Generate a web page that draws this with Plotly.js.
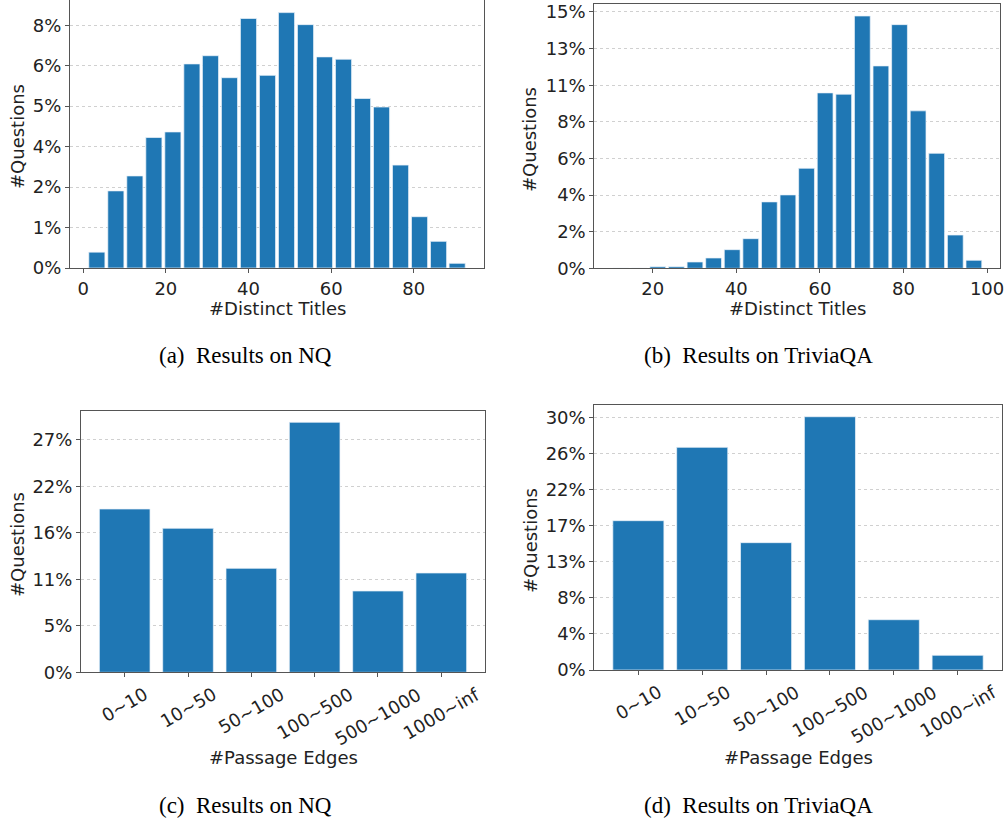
<!DOCTYPE html>
<html><head><meta charset="utf-8">
<script src="https://cdn.plot.ly/plotly-3.0.1.min.js"></script>
<style>html,body{margin:0;padding:0;background:#fff;} #chart{width:1008px;height:820px;}</style>
</head><body><div id="chart"></div>
<script>
// (a) NQ: #Distinct Titles histogram (bin centres, % of questions)
const nqTitleBins = [3.3, 7.9, 12.5, 17.1, 21.7, 26.3, 30.8, 35.4, 40.0, 44.6, 49.2, 53.8, 58.4, 63.0, 67.6, 72.2, 76.8, 81.4, 86.0, 90.5];
const nqTitlePct  = [0.54, 2.63, 3.14, 4.45, 4.64, 6.96, 7.24, 6.49, 8.51, 6.57, 8.71, 8.30, 7.20, 7.12, 5.78, 5.49, 3.51, 1.75, 0.91, 0.16];
const nqTitleTickLabels = ['0%','1%','2%','4%','5%','6%','8%'];
const nqTitleTickStep = 1.38;

// (b) TriviaQA: #Distinct Titles histogram
const tqTitleBins = [12.3, 16.75, 21.2, 25.65, 30.1, 34.55, 39.0, 43.45, 47.9, 52.35, 56.8, 61.25, 65.7, 70.15, 74.6, 79.05, 83.5, 87.95, 92.4, 96.85];
const tqTitlePct  = [0, 0, 0.1, 0.1, 0.38, 0.62, 1.12, 1.78, 3.99, 4.41, 6.01, 10.54, 10.46, 15.16, 12.16, 14.64, 9.46, 6.91, 2.0, 0.48];
const tqTitleTickLabels = ['0%','2%','4%','6%','8%','11%','13%','15%'];
const tqTitleTickStep = 2.2;

// (c)/(d) #Passage Edges
const edgeCats = ['0~10','10~50','50~100','100~500','500~1000','1000~inf'];
const nqEdgePct = [19.40, 17.11, 12.35, 29.70, 9.66, 11.80];
const nqEdgeTickLabels = ['0%','5%','11%','16%','22%','27%'];
const nqEdgeTickStep = 5.52;
const tqEdgePct = [18.2, 27.14, 15.52, 30.87, 6.13, 1.79];
const tqEdgeTickLabels = ['0%','4%','8%','13%','17%','22%','26%','30%'];
const tqEdgeTickStep = 4.4;

const captions = ['(a)\u2002Results on NQ', '(b)\u2002Results on TriviaQA', '(c)\u2002Results on NQ', '(d)\u2002Results on TriviaQA'];
const yTitle = '#Questions';
const xTitles = ['#Distinct Titles', '#Distinct Titles', '#Passage Edges', '#Passage Edges'];

const W = 1008, H = 820;
const fx = p => p / W;
const fy = p => 1 - p / H;
const BLUE = '#1f77b4';
const EDGE = 'rgba(235,242,250,0.9)';
const tickFont = {family: 'DejaVu Sans', size: 18, color: '#222'};

const ticksFrom = (labels, step) => labels.map((_, i) => i * step);

const traces = [
  {type: 'bar', x: nqTitleBins, y: nqTitlePct, width: 3.9, xaxis: 'x', yaxis: 'y',
   marker: {color: BLUE, line: {color: EDGE, width: 0.8}}, hoverinfo: 'x+y'},
  {type: 'bar', x: tqTitleBins, y: tqTitlePct, width: 3.78, xaxis: 'x2', yaxis: 'y2',
   marker: {color: BLUE, line: {color: EDGE, width: 0.8}}, hoverinfo: 'x+y'},
  {type: 'bar', x: edgeCats, y: nqEdgePct, width: 0.8, xaxis: 'x3', yaxis: 'y3',
   marker: {color: BLUE, line: {color: EDGE, width: 0.8}}, hoverinfo: 'x+y'},
  {type: 'bar', x: edgeCats, y: tqEdgePct, width: 0.8, xaxis: 'x4', yaxis: 'y4',
   marker: {color: BLUE, line: {color: EDGE, width: 0.8}}, hoverinfo: 'x+y'}
];

const axBase = {showline: true, linecolor: '#555', linewidth: 1, mirror: true,
  ticks: 'outside', ticklen: 4, tickwidth: 1, tickcolor: '#555', tickfont: tickFont,
  zeroline: false, showgrid: false, fixedrange: true};
const yBase = Object.assign({}, axBase, {showgrid: true, gridcolor: '#d0d0d0', griddash: 'dot', gridwidth: 1, tickmode: 'array'});

const layout = {
  width: W, height: H, margin: {l: 0, r: 0, t: 0, b: 0},
  paper_bgcolor: '#fff', plot_bgcolor: '#fff', showlegend: false,
  xaxis:  Object.assign({}, axBase, {domain: [fx(70), fx(484)], range: [-3.2, 97.0], tick0: 0, dtick: 20, anchor: 'y'}),
  yaxis:  Object.assign({}, yBase, {domain: [fy(268), 1], range: [0, 9.14], tickvals: ticksFrom(nqTitleTickLabels, nqTitleTickStep), ticktext: nqTitleTickLabels, anchor: 'x'}),
  xaxis2: Object.assign({}, axBase, {domain: [fx(594.3), fx(1000)], range: [6.0, 103.1], tick0: 0, dtick: 20, anchor: 'y2'}),
  yaxis2: Object.assign({}, yBase, {domain: [fy(268.3), fy(4)], range: [0, 15.88], tickvals: ticksFrom(tqTitleTickLabels, tqTitleTickStep), ticktext: tqTitleTickLabels, anchor: 'x2'}),
  xaxis3: Object.assign({}, axBase, {domain: [fx(81), fx(485)], type: 'category', range: [-0.69, 5.69], showticklabels: false, anchor: 'y3'}),
  yaxis3: Object.assign({}, yBase, {domain: [fy(672.3), fy(411)], range: [0, 31.04], tickvals: ticksFrom(nqEdgeTickLabels, nqEdgeTickStep), ticktext: nqEdgeTickLabels, anchor: 'x3'}),
  xaxis4: Object.assign({}, axBase, {domain: [fx(594.3), fx(1001.7)], type: 'category', range: [-0.69, 5.69], showticklabels: false, anchor: 'y4'}),
  yaxis4: Object.assign({}, yBase, {domain: [fy(670), fy(405)], range: [0, 32.3], tickvals: ticksFrom(tqEdgeTickLabels, tqEdgeTickStep), ticktext: tqEdgeTickLabels, anchor: 'x4'}),
  annotations: []
};

const ann = layout.annotations;
const titleFont = {family: 'DejaVu Sans', size: 18, color: '#222'};
const capFont = {family: 'Liberation Serif', size: 23, color: '#000'};
// y-axis titles
[[17, 137], [529, 140], [17, 545], [530, 541]].forEach(([x, y]) => ann.push({
  text: yTitle, xref: 'paper', yref: 'paper', x: fx(x), y: fy(y), xanchor: 'center', yanchor: 'middle',
  textangle: -90, showarrow: false, font: titleFont}));
// x-axis titles
[[277, 308], [797, 308], [283, 757], [798, 757]].forEach(([x, y], i) => ann.push({
  text: xTitles[i], xref: 'paper', yref: 'paper', x: fx(x), y: fy(y), xanchor: 'center', yanchor: 'middle',
  showarrow: false, font: titleFont}));
// captions
[[245, 356], [758, 356], [245, 805], [758, 805]].forEach(([x, y], i) => ann.push({
  text: captions[i], xref: 'paper', yref: 'paper', x: fx(x), y: fy(y), xanchor: 'center', yanchor: 'middle',
  showarrow: false, font: capFont}));
// rotated category tick labels for (c) and (d)
edgeCats.forEach(c => {
  ann.push({text: c, xref: 'x3', yref: 'paper', x: c, y: fy(682), xanchor: 'center', yanchor: 'top',
    textangle: -30, showarrow: false, font: tickFont, borderpad: 0});
  ann.push({text: c, xref: 'x4', yref: 'paper', x: c, y: fy(680), xanchor: 'center', yanchor: 'top',
    textangle: -30, showarrow: false, font: tickFont, borderpad: 0});
});

Plotly.newPlot('chart', traces, layout, {staticPlot: true, displayModeBar: false});
</script>
</body></html>
